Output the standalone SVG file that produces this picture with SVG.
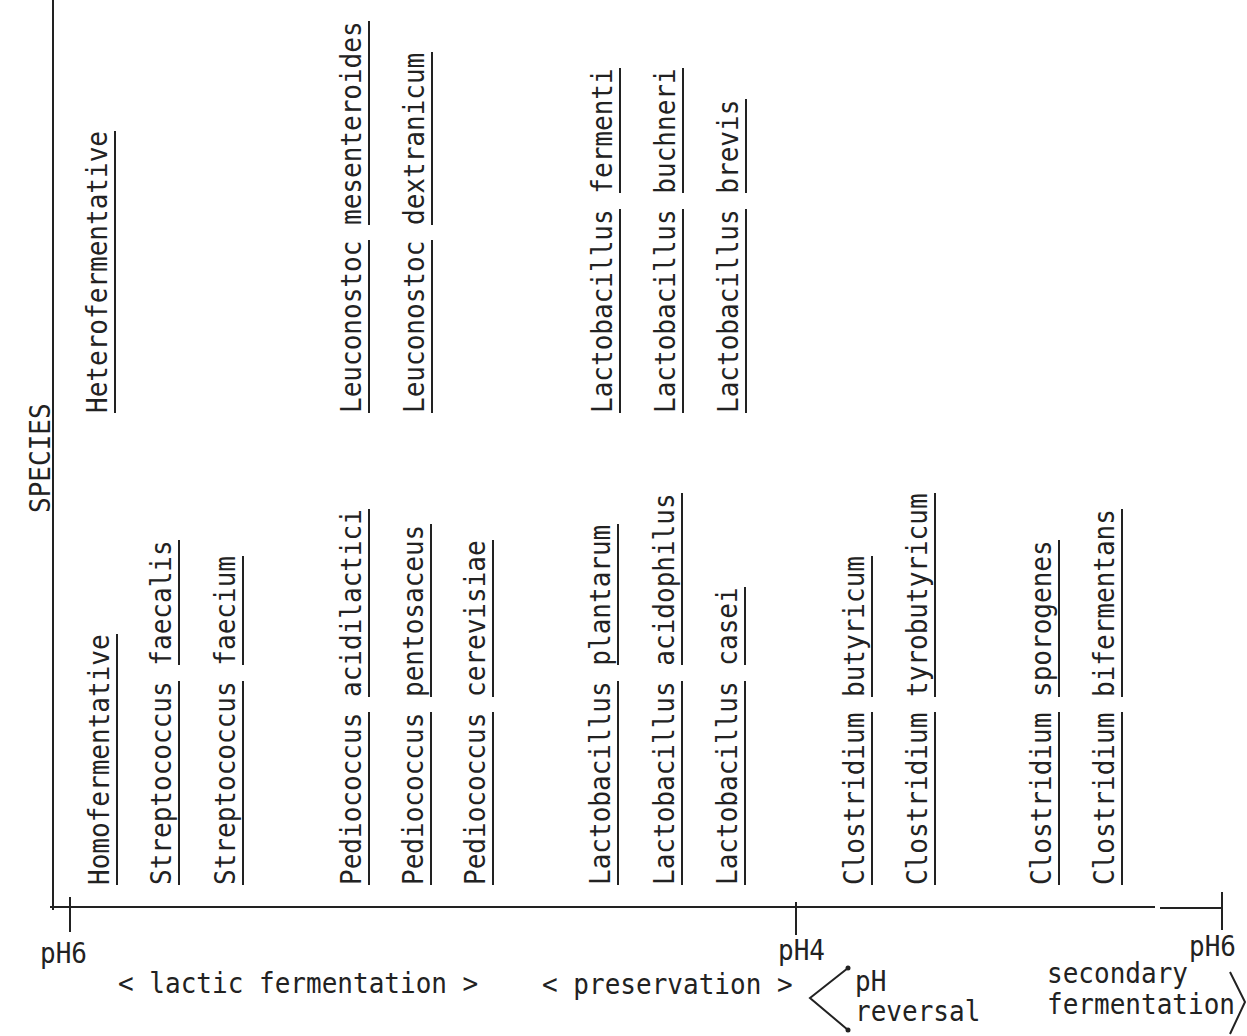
<svg xmlns="http://www.w3.org/2000/svg" width="1247" height="1036" viewBox="0 0 1247 1036">
<style>
  .t { font-family: "DejaVu Sans Mono", "Liberation Mono", monospace; font-size: 28px; fill: #222222; }
  .u { stroke: #222222; stroke-width: 2; fill: none; }
  .ax { stroke: #222222; stroke-width: 2; fill: none; }
</style>
<rect width="1247" height="1036" fill="#ffffff"/>

<g id="axes">
  <line class="ax" x1="53" y1="0" x2="53" y2="910"/>
  <line class="ax" x1="50" y1="907" x2="1155" y2="907"/>
  <line class="ax" x1="1160" y1="908" x2="1222" y2="908"/>
  <line class="ax" x1="70" y1="897" x2="70" y2="932"/>
  <line class="ax" x1="796" y1="902" x2="796" y2="935"/>
  <line class="ax" x1="1222" y1="892" x2="1222" y2="930"/>
</g>

<g id="label-species">
  <text class="t" transform="translate(50,513) rotate(-90) scale(0.93 1)">SPECIES</text>
</g>

<g id="n-homofermentative">
  <text class="t" transform="translate(109,885) rotate(-90) scale(0.93 1)">Homofermentative</text>
  <line class="u" x1="117" y1="885" x2="117" y2="634"/>
</g>
<g id="n-strep-faecalis">
  <text class="t" transform="translate(171,885) rotate(-90) scale(0.93 1)">Streptococcus faecalis</text>
  <line class="u" x1="179" y1="885" x2="179" y2="681"/>
  <line class="u" x1="179" y1="665" x2="179" y2="540"/>
</g>
<g id="n-strep-faecium">
  <text class="t" transform="translate(235,885) rotate(-90) scale(0.93 1)">Streptococcus faecium</text>
  <line class="u" x1="243" y1="885" x2="243" y2="681"/>
  <line class="u" x1="243" y1="665" x2="243" y2="556"/>
</g>
<g id="n-pedio-acidilactici">
  <text class="t" transform="translate(361,885) rotate(-90) scale(0.93 1)">Pediococcus acidilactici</text>
  <line class="u" x1="369" y1="885" x2="369" y2="712"/>
  <line class="u" x1="369" y1="697" x2="369" y2="509"/>
</g>
<g id="n-pedio-pentosaceus">
  <text class="t" transform="translate(423,885) rotate(-90) scale(0.93 1)">Pediococcus pentosaceus</text>
  <line class="u" x1="431" y1="885" x2="431" y2="712"/>
  <line class="u" x1="431" y1="697" x2="431" y2="524"/>
</g>
<g id="n-pedio-cerevisiae">
  <text class="t" transform="translate(485,885) rotate(-90) scale(0.93 1)">Pediococcus cerevisiae</text>
  <line class="u" x1="493" y1="885" x2="493" y2="712"/>
  <line class="u" x1="493" y1="697" x2="493" y2="540"/>
</g>
<g id="n-lacto-plantarum">
  <text class="t" transform="translate(610,885) rotate(-90) scale(0.93 1)">Lactobacillus plantarum</text>
  <line class="u" x1="618" y1="885" x2="618" y2="681"/>
  <line class="u" x1="618" y1="665" x2="618" y2="524"/>
</g>
<g id="n-lacto-acidophilus">
  <text class="t" transform="translate(674,885) rotate(-90) scale(0.93 1)">Lactobacillus acidophilus</text>
  <line class="u" x1="682" y1="885" x2="682" y2="681"/>
  <line class="u" x1="682" y1="665" x2="682" y2="493"/>
</g>
<g id="n-lacto-casei">
  <text class="t" transform="translate(737,885) rotate(-90) scale(0.93 1)">Lactobacillus casei</text>
  <line class="u" x1="745" y1="885" x2="745" y2="681"/>
  <line class="u" x1="745" y1="665" x2="745" y2="587"/>
</g>
<g id="n-clos-butyricum">
  <text class="t" transform="translate(864,885) rotate(-90) scale(0.93 1)">Clostridium butyricum</text>
  <line class="u" x1="872" y1="885" x2="872" y2="712"/>
  <line class="u" x1="872" y1="697" x2="872" y2="556"/>
</g>
<g id="n-clos-tyrobutyricum">
  <text class="t" transform="translate(927,885) rotate(-90) scale(0.93 1)">Clostridium tyrobutyricum</text>
  <line class="u" x1="935" y1="885" x2="935" y2="712"/>
  <line class="u" x1="935" y1="697" x2="935" y2="493"/>
</g>
<g id="n-clos-sporogenes">
  <text class="t" transform="translate(1051,885) rotate(-90) scale(0.93 1)">Clostridium sporogenes</text>
  <line class="u" x1="1059" y1="885" x2="1059" y2="712"/>
  <line class="u" x1="1059" y1="697" x2="1059" y2="540"/>
</g>
<g id="n-clos-bifermentans">
  <text class="t" transform="translate(1114,885) rotate(-90) scale(0.93 1)">Clostridium bifermentans</text>
  <line class="u" x1="1122" y1="885" x2="1122" y2="712"/>
  <line class="u" x1="1122" y1="697" x2="1122" y2="509"/>
</g>

<g id="n-heterofermentative">
  <text class="t" transform="translate(107,413) rotate(-90) scale(0.93 1)">Heterofermentative</text>
  <line class="u" x1="115" y1="413" x2="115" y2="131"/>
</g>
<g id="n-leuco-mesenteroides">
  <text class="t" transform="translate(361,413) rotate(-90) scale(0.93 1)">Leuconostoc mesenteroides</text>
  <line class="u" x1="369" y1="413" x2="369" y2="240"/>
  <line class="u" x1="369" y1="225" x2="369" y2="21"/>
</g>
<g id="n-leuco-dextranicum">
  <text class="t" transform="translate(424,413) rotate(-90) scale(0.93 1)">Leuconostoc dextranicum</text>
  <line class="u" x1="432" y1="413" x2="432" y2="240"/>
  <line class="u" x1="432" y1="225" x2="432" y2="52"/>
</g>
<g id="n-lacto-fermenti">
  <text class="t" transform="translate(612,413) rotate(-90) scale(0.93 1)">Lactobacillus fermenti</text>
  <line class="u" x1="620" y1="413" x2="620" y2="209"/>
  <line class="u" x1="620" y1="193" x2="620" y2="68"/>
</g>
<g id="n-lacto-buchneri">
  <text class="t" transform="translate(675,413) rotate(-90) scale(0.93 1)">Lactobacillus buchneri</text>
  <line class="u" x1="683" y1="413" x2="683" y2="209"/>
  <line class="u" x1="683" y1="193" x2="683" y2="68"/>
</g>
<g id="n-lacto-brevis">
  <text class="t" transform="translate(738,413) rotate(-90) scale(0.93 1)">Lactobacillus brevis</text>
  <line class="u" x1="746" y1="413" x2="746" y2="209"/>
  <line class="u" x1="746" y1="193" x2="746" y2="99"/>
</g>

<g id="axis-labels">
  <text class="t" transform="translate(40,963) scale(0.93 1)">pH6</text>
  <text class="t" transform="translate(778,960) scale(0.93 1)">pH4</text>
  <text class="t" transform="translate(1189,956) scale(0.93 1)">pH6</text>
  <text class="t" transform="translate(118,993) scale(0.93 1)">&lt; lactic fermentation &gt;</text>
  <text class="t" transform="translate(542,994) scale(0.93 1)">&lt; preservation &gt;</text>
  <text class="t" transform="translate(855,991) scale(0.93 1)">pH</text>
  <text class="t" transform="translate(855,1021) scale(0.93 1)">reversal</text>
  <text class="t" transform="translate(1047,983) scale(0.93 1)">secondary</text>
  <text class="t" transform="translate(1047,1014) scale(0.93 1)">fermentation</text>
</g>

<g id="brackets">
  <polyline class="ax" points="848,968 810,998 848,1030"/>
  <circle cx="848" cy="968" r="2.5" fill="#222222"/>
  <circle cx="848" cy="1030" r="2.5" fill="#222222"/>
  <polyline class="ax" points="1230,972 1245,1002 1230,1034"/>
</g>
</svg>
